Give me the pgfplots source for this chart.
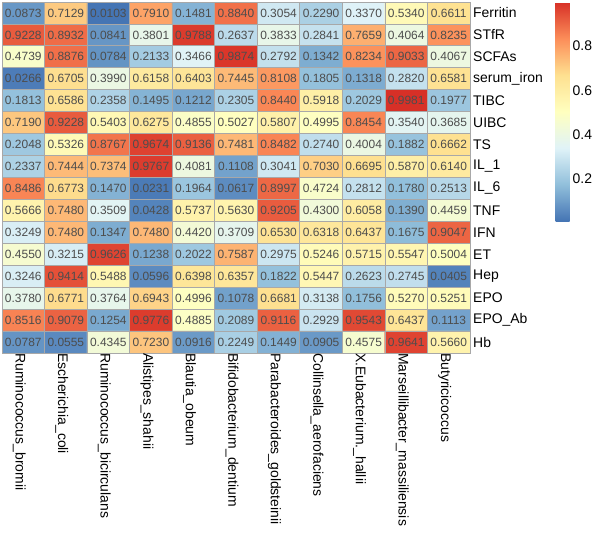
\documentclass[border=0pt]{standalone}
\usepackage{fontspec}
\setmainfont{Liberation Sans}
\usepackage{pgfplots}
\usepackage{pgfplotstable}
\pgfplotsset{compat=1.18}
\definecolor{numcol}{HTML}{4D4D4D}
\definecolor{cellborder}{HTML}{A8A8A8}
\pgfplotstableread{
x y v
0 0 0.0873
1 0 0.7129
2 0 0.0103
3 0 0.7910
4 0 0.1481
5 0 0.8840
6 0 0.3054
7 0 0.2290
8 0 0.3370
9 0 0.5340
10 0 0.6611
0 1 0.9228
1 1 0.8932
2 1 0.0841
3 1 0.3801
4 1 0.9788
5 1 0.2637
6 1 0.3833
7 1 0.2841
8 1 0.7659
9 1 0.4064
10 1 0.8235
0 2 0.4739
1 2 0.8876
2 2 0.0784
3 2 0.2133
4 2 0.3466
5 2 0.9874
6 2 0.2792
7 2 0.1342
8 2 0.8234
9 2 0.9033
10 2 0.4067
0 3 0.0266
1 3 0.6705
2 3 0.3990
3 3 0.6158
4 3 0.6403
5 3 0.7445
6 3 0.8108
7 3 0.1805
8 3 0.1318
9 3 0.2820
10 3 0.6581
0 4 0.1813
1 4 0.6586
2 4 0.2358
3 4 0.1495
4 4 0.1212
5 4 0.2305
6 4 0.8440
7 4 0.5918
8 4 0.2029
9 4 0.9981
10 4 0.1977
0 5 0.7190
1 5 0.9228
2 5 0.5403
3 5 0.6275
4 5 0.4855
5 5 0.5027
6 5 0.5807
7 5 0.4995
8 5 0.8454
9 5 0.3540
10 5 0.3685
0 6 0.2048
1 6 0.5326
2 6 0.8767
3 6 0.9674
4 6 0.9136
5 6 0.7481
6 6 0.8482
7 6 0.2740
8 6 0.4004
9 6 0.1882
10 6 0.6662
0 7 0.2337
1 7 0.7444
2 7 0.7374
3 7 0.9767
4 7 0.4081
5 7 0.1108
6 7 0.3041
7 7 0.7030
8 7 0.6695
9 7 0.5870
10 7 0.6140
0 8 0.8486
1 8 0.6773
2 8 0.1470
3 8 0.0231
4 8 0.1964
5 8 0.0617
6 8 0.8997
7 8 0.4724
8 8 0.2812
9 8 0.1780
10 8 0.2513
0 9 0.5666
1 9 0.7480
2 9 0.3509
3 9 0.0428
4 9 0.5737
5 9 0.5630
6 9 0.9205
7 9 0.4300
8 9 0.6058
9 9 0.1390
10 9 0.4459
0 10 0.3249
1 10 0.7480
2 10 0.1347
3 10 0.7480
4 10 0.4420
5 10 0.3709
6 10 0.6530
7 10 0.6318
8 10 0.6437
9 10 0.1675
10 10 0.9047
0 11 0.4550
1 11 0.3215
2 11 0.9626
3 11 0.1238
4 11 0.2022
5 11 0.7587
6 11 0.2975
7 11 0.5246
8 11 0.5715
9 11 0.5547
10 11 0.5004
0 12 0.3246
1 12 0.9414
2 12 0.5488
3 12 0.0596
4 12 0.6398
5 12 0.6357
6 12 0.1822
7 12 0.5447
8 12 0.2623
9 12 0.2745
10 12 0.0405
0 13 0.3780
1 13 0.6771
2 13 0.3764
3 13 0.6943
4 13 0.4996
5 13 0.1078
6 13 0.6681
7 13 0.3138
8 13 0.1756
9 13 0.5270
10 13 0.5251
0 14 0.8516
1 14 0.9079
2 14 0.1254
3 14 0.9776
4 14 0.4885
5 14 0.2089
6 14 0.9116
7 14 0.2929
8 14 0.9543
9 14 0.6437
10 14 0.1113
0 15 0.0787
1 15 0.0555
2 15 0.4345
3 15 0.7230
4 15 0.0916
5 15 0.2249
6 15 0.1449
7 15 0.0905
8 15 0.4575
9 15 0.9641
10 15 0.5660
}\heat
\begin{document}
\begin{tikzpicture}
\useasboundingbox (0,0) rectangle (597bp,-536bp);
\begin{axis}[
  at={(2bp,-2bp)}, anchor=north west,
  scale only axis, width=468bp, height=351bp,
  xmin=-0.5, xmax=10.5, ymin=-0.5, ymax=15.5,
  y dir=reverse,
  enlargelimits=false,
  axis on top,
  colormap={rdylbu}{rgb255=(69,117,180) rgb255=(145,191,219) rgb255=(224,243,248) rgb255=(255,255,191) rgb255=(254,224,144) rgb255=(252,141,89) rgb255=(215,48,39)},
  point meta min=0.0103, point meta max=0.9981,
  axis line style={cellborder, line width=0.8bp},
  xtick={0,...,10},
  xticklabels={Ruminococcus\_bromii,Escherichia\_coli,Ruminococcus\_bicirculans,Alistipes\_shahii,Blautia\_obeum,Bifidobacterium\_dentium,Parabacteroides\_goldsteinii,Collinsella\_aerofaciens,X.Eubacterium.\_hallii,Marseillibacter\_massiliensis,Butyricicoccus},
  ytick={0,...,15},
  yticklabels={Ferritin,STfR,SCFAs,serum\_iron,TIBC,UIBC,TS,IL\_1,IL\_6,TNF,IFN,ET,Hep,EPO,EPO\_Ab,Hb},
  yticklabel pos=right,
  major tick length=0pt, minor tick length=0pt,
  minor xtick={0.5,1.5,...,9.5},
  minor ytick={0.5,1.5,...,14.5},
  minor grid style={cellborder, line width=0.8bp},
  xminorgrids, yminorgrids,
  xticklabel style={rotate=-90, anchor=west, inner sep=0pt, font=\fontsize{14}{16}\selectfont, yshift=-4bp},
  yticklabel style={anchor=west, inner sep=0pt, font=\fontsize{14}{16}\selectfont, xshift=3bp},
  colorbar,
  colorbar style={
    at={(parent axis.north east)}, anchor=north west, xshift=77bp,
    scale only axis, width=14bp, height=219bp,
    axis line style={draw=none},
    major tick length=0pt,
    ytick={0.2,0.4,0.6,0.8},
    yticklabel style={font=\fontsize{14}{16}\selectfont, inner sep=0pt, xshift=3bp,
      /pgf/number format/fixed, /pgf/number format/precision=1, /pgf/number format/fixed zerofill,
      /pgf/number format/assume math mode=true},
  },
]
\addplot[matrix plot*, mesh/cols=11, point meta=explicit] table[x=x, y=y, meta=v]{\heat};
\addplot[only marks, mark=none, point meta=explicit symbolic,
  nodes near coords,
  every node near coord/.append style={anchor=center, inner sep=0pt, text=numcol, font=\fontsize{12}{14}\selectfont}]
  table[x=x, y=y, meta=v]{\heat};
\end{axis}
\end{tikzpicture}
\end{document}
